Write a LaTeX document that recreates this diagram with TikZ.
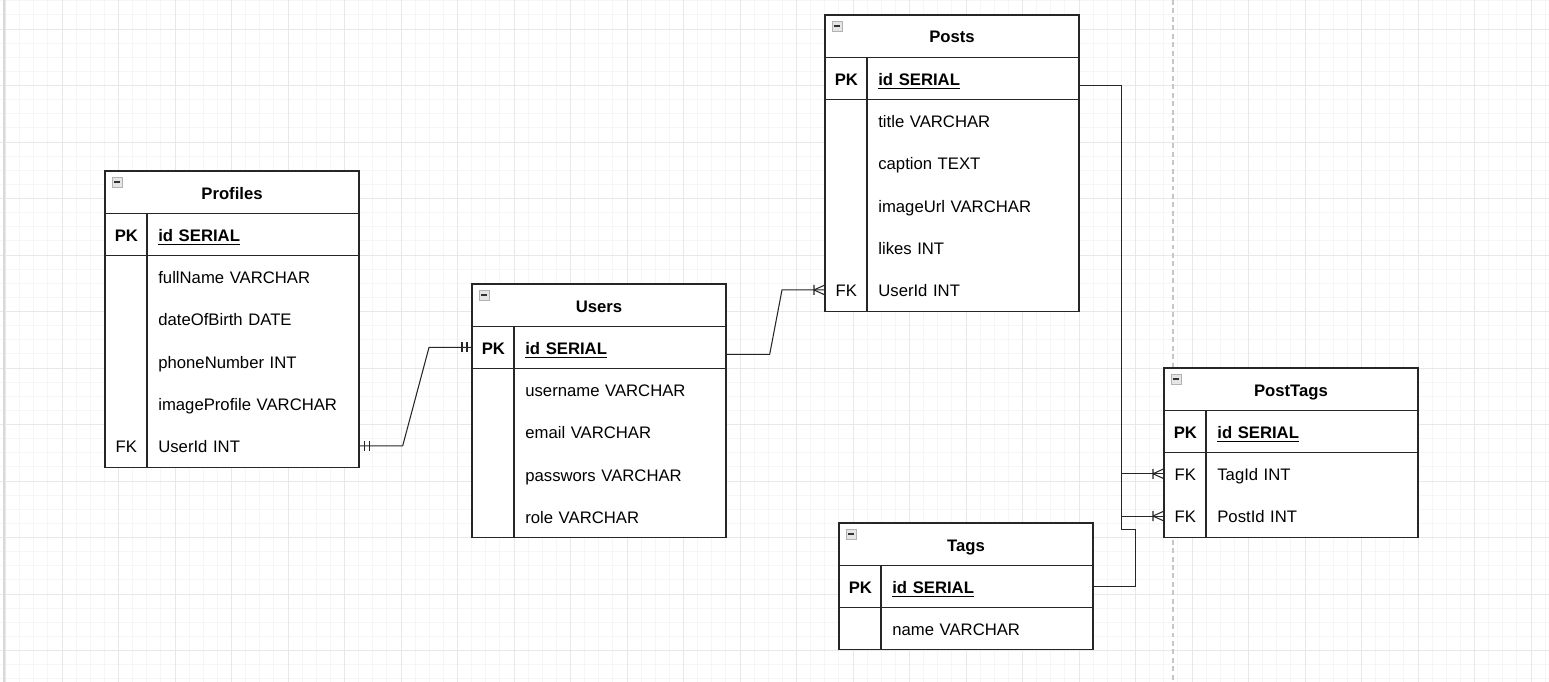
\documentclass[tikz,border=0pt]{standalone}
\usepackage{fontspec}
\setmainfont{Liberation Sans}
\usetikzlibrary{calc, positioning}

\newcommand{\erfont}{\fontsize{9.5}{11}\selectfont}
\newcommand{\rowstrut}{\rule[-2.2pt]{0pt}{12.2pt}}
\def\rh{42.3}

\tikzset{
  gridminor/.style={gray!7, line width=0.5pt},
  gridmajor/.style={gray!18, line width=0.5pt},
  tbl/.style={draw=black!85, line width=0.6pt, fill=white},
  sep/.style={black!85, line width=0.6pt},
  ttl/.style={font=\erfont\bfseries, execute at begin node=\rowstrut},
  keycell/.style={anchor=west, minimum width=0.84cm, minimum height=0.846cm, inner sep=0pt, font=\erfont, execute at begin node=\rowstrut},
  fieldcell/.style={anchor=west, text width=3.8cm, inner xsep=0.22cm, inner ysep=0pt, minimum height=0.846cm, align=left, font=\erfont, execute at begin node=\rowstrut},
  minbox/.style={draw=gray!60, fill=gray!20, minimum size=0.2cm, inner sep=0pt,
    path picture={\draw[gray!40!black, line width=0.7pt] ([xshift=-0.065cm]path picture bounding box.center) -- ([xshift=0.065cm]path picture bounding box.center);}},
  conn/.style={black!85, line width=0.6pt},
  mandone/.pic={\draw[conn] (5,-5) -- (5,5) (10,-5) -- (10,5);},
  onemany/.pic={\draw[conn] (-11,-5) -- (-11,5) (-11,0) -- (0,5) (-11,0) -- (0,-5);},
}

\begin{document}
\begin{tikzpicture}[x=0.02cm, y=-0.02cm]
  \useasboundingbox[fill=white] (0,0) rectangle (1549,682);

  % grid
  \foreach \i in {0,...,110} \draw[gridminor] ({5.5+14.125*\i},0) -- ++(0,682);
  \foreach \j in {0,...,48} \draw[gridminor] (0,{0.75+14.125*\j}) -- ++(1549,0);
  \foreach \i in {0,...,27} \draw[gridmajor] ({5.5+56.5*\i},0) -- ++(0,682);
  \foreach \j in {0,...,11} \draw[gridmajor] (0,{29+56.5*\j}) -- ++(1549,0);
  \draw[gray!30, line width=0.8pt] (4,0) -- (4,682);
  \draw[gray!45, line width=0.6pt, dash pattern=on 2.8pt off 2pt] (1173,0) -- (1173,682);

  % Profiles
  \draw[tbl] (105,171) rectangle ++(254,{7*\rh});
  \draw[sep] (105,171+\rh) -- ++(254,0) (105,{171+2*\rh}) -- ++(254,0) (147,171+\rh) -- (147,{171+7*\rh});
  \node[minbox] (profilesIcon) at (117,182) {};
  \node[ttl] (profiles) at (232,{171+\rh/2}) {Profiles};
  \node[keycell, font=\erfont\bfseries] (profilesPK) at (105,{171+1.5*\rh}) {PK};
  \node[fieldcell, font=\erfont\bfseries] (profilesId) at (147,{171+1.5*\rh}) {\underline{id SERIAL}};
  \foreach \k/\f [count=\i] in { /fullName VARCHAR, /dateOfBirth DATE, /phoneNumber INT, /imageProfile VARCHAR, FK/UserId INT}
    \node[keycell] (profilesK\i) at (105,{171+(1.5+\i)*\rh}) {\k}
      node[fieldcell] (profilesF\i) at (147,{171+(1.5+\i)*\rh}) {\f};

  % Users
  \draw[tbl] (472,284) rectangle ++(254,{6*\rh});
  \draw[sep] (472,284+\rh) -- ++(254,0) (472,{284+2*\rh}) -- ++(254,0) (514,284+\rh) -- (514,{284+6*\rh});
  \node[minbox] (usersIcon) at (484,295) {};
  \node[ttl] (users) at (599,{284+\rh/2}) {Users};
  \node[keycell, font=\erfont\bfseries] (usersPK) at (472,{284+1.5*\rh}) {PK};
  \node[fieldcell, font=\erfont\bfseries] (usersId) at (514,{284+1.5*\rh}) {\underline{id SERIAL}};
  \foreach \k/\f [count=\i] in { /username VARCHAR, /email VARCHAR, /passwors VARCHAR, /role VARCHAR}
    \node[keycell] (usersK\i) at (472,{284+(1.5+\i)*\rh}) {\k}
      node[fieldcell] (usersF\i) at (514,{284+(1.5+\i)*\rh}) {\f};

  % Posts
  \draw[tbl] (825,15) rectangle ++(254,{7*\rh});
  \draw[sep] (825,15+\rh) -- ++(254,0) (825,{15+2*\rh}) -- ++(254,0) (867,15+\rh) -- (867,{15+7*\rh});
  \node[minbox] (postsIcon) at (837,26) {};
  \node[ttl] (posts) at (952,{15+\rh/2}) {Posts};
  \node[keycell, font=\erfont\bfseries] (postsPK) at (825,{15+1.5*\rh}) {PK};
  \node[fieldcell, font=\erfont\bfseries] (postsId) at (867,{15+1.5*\rh}) {\underline{id SERIAL}};
  \foreach \k/\f [count=\i] in { /title VARCHAR, /caption TEXT, /imageUrl VARCHAR, /likes INT, FK/UserId INT}
    \node[keycell] (postsK\i) at (825,{15+(1.5+\i)*\rh}) {\k}
      node[fieldcell] (postsF\i) at (867,{15+(1.5+\i)*\rh}) {\f};

  % PostTags
  \draw[tbl] (1164,368) rectangle ++(254,{4*\rh});
  \draw[sep] (1164,368+\rh) -- ++(254,0) (1164,{368+2*\rh}) -- ++(254,0) (1206,368+\rh) -- (1206,{368+4*\rh});
  \node[minbox] (posttagsIcon) at (1176,379) {};
  \node[ttl] (posttags) at (1291,{368+\rh/2}) {PostTags};
  \node[keycell, font=\erfont\bfseries] (posttagsPK) at (1164,{368+1.5*\rh}) {PK};
  \node[fieldcell, font=\erfont\bfseries] (posttagsId) at (1206,{368+1.5*\rh}) {\underline{id SERIAL}};
  \foreach \k/\f [count=\i] in {FK/TagId INT, FK/PostId INT}
    \node[keycell] (posttagsK\i) at (1164,{368+(1.5+\i)*\rh}) {\k}
      node[fieldcell] (posttagsF\i) at (1206,{368+(1.5+\i)*\rh}) {\f};

  % Tags
  \draw[tbl] (839,523) rectangle ++(254,{3*\rh});
  \draw[sep] (839,523+\rh) -- ++(254,0) (839,{523+2*\rh}) -- ++(254,0) (881,523+\rh) -- (881,{523+3*\rh});
  \node[minbox] (tagsIcon) at (851,534) {};
  \node[ttl] (tags) at (966,{523+\rh/2}) {Tags};
  \node[keycell, font=\erfont\bfseries] (tagsPK) at (839,{523+1.5*\rh}) {PK};
  \node[fieldcell, font=\erfont\bfseries] (tagsId) at (881,{523+1.5*\rh}) {\underline{id SERIAL}};
  \node[keycell] (tagsK1) at (839,{523+2.5*\rh}) {}
    node[fieldcell] (tagsF1) at (881,{523+2.5*\rh}) {name VARCHAR};

  % relations
  \draw[conn] (profilesF5.east) -- ++(43,0) -- ($(usersPK.west)+(-43,0)$) -- (usersPK.west);
  \pic at (profilesF5.east) {mandone};
  \pic[xscale=-1] at (usersPK.west) {mandone};

  \draw[conn] ($(usersId.east)+(0,7)$) -- ++(43,0) -- ($(postsK5.west)+(-43,0)$) -- (postsK5.west);
  \pic at (postsK5.west) {onemany};

  \draw[conn] ($(postsId.east)+(0,7)$) -- ++(42,0) |- (posttagsK2.west);
  \pic at (posttagsK2.west) {onemany};

  \draw[conn] (tagsId.east) -- ++(42,0) -- ++(0,-57) -- ++(-14,0) |- (posttagsK1.west);
  \pic at (posttagsK1.west) {onemany};
\end{tikzpicture}
\end{document}
